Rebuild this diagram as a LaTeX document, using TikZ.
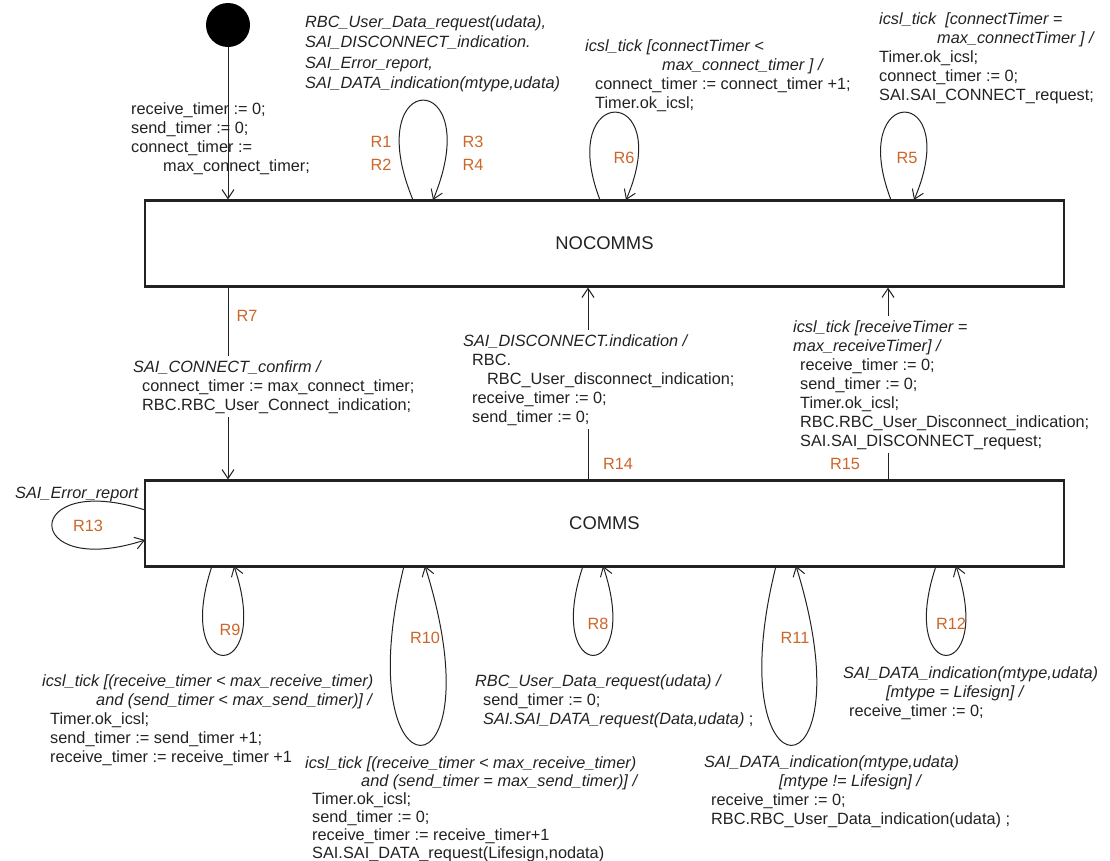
\documentclass[tikz,border=0pt]{standalone}
\usepackage{fontspec}
\setmainfont{Liberation Sans}
\usepackage{xcolor}
\usetikzlibrary{arrows.meta,positioning}
\definecolor{rorange}{RGB}{204,102,41}
\definecolor{ink}{RGB}{34,34,34}

\begin{document}
\begin{tikzpicture}[x=1pt,y=-1pt,
  state/.style={draw=ink,line width=2.2pt,minimum width=919pt,minimum height=86pt,
    inner sep=0pt,text=ink,font=\fontsize{18.4}{20}\selectfont},
  trans/.style={ink,line width=1pt,-{Straight Barb[length=9pt,width=12pt]}},
  act/.style={anchor=north west,align=left,inner sep=0pt,text=ink,
    font=\fontsize{16.3}{19}\selectfont},
  actit/.style={act,font=\fontsize{16.3}{19}\selectfont\itshape},
  actw/.style={act,fill=white,inner ysep=4pt},
  rname/.style={text=rorange,inner sep=0pt,font=\fontsize{16.3}{19}\selectfont}]
\useasboundingbox (0,0) rectangle (1110,860);

% states
\node[state] (nocomms) at (604.5,243.5) {NOCOMMS};
\node[state] (comms) at (604.5,523.5) {COMMS};
\node[circle,fill=black,inner sep=0pt,minimum size=44pt] (init) at (228,25) {};

% straight transitions
\coordinate (x14) at (588,0);
\coordinate (x15) at (888,0);
\draw[trans] (init) -- (init |- nocomms.north);
\draw[trans] (nocomms.south -| init) -- (comms.north -| init);
\draw[trans] (comms.north -| x14) -- (nocomms.south -| x14);
\draw[trans] (comms.north -| x15) -- (nocomms.south -| x15);

% self loops on NOCOMMS
\coordinate (a1) at (413,200); \coordinate (b1) at (433,200);
\coordinate (a6) at (600,200); \coordinate (b6) at (626,200);
\coordinate (a5) at (891,200); \coordinate (b5) at (914,200);
\draw[trans] (a1) .. controls (358,67) and (488,67) .. (b1);
\draw[trans] (a6) .. controls (555,83) and (676,83) .. (b6);
\draw[trans] (a5) .. controls (846,83) and (964,83) .. (b5);

% self loops on COMMS
\coordinate (a9) at (212,566); \coordinate (b9) at (234,566);
\coordinate (a10) at (404,566); \coordinate (b10) at (425,566);
\coordinate (a8) at (583,566); \coordinate (b8) at (603,566);
\coordinate (a11) at (776,566); \coordinate (b11) at (796,566);
\coordinate (a12) at (936,566); \coordinate (b12) at (956,566);
\coordinate (a13) at (145,510); \coordinate (b13) at (145,540);
\draw[trans] (a9) .. controls (172,685) and (274,685) .. (b9);
\draw[trans] (a10) .. controls (345,805) and (500,805) .. (b10);
\draw[trans] (a8) .. controls (543,685) and (643,685) .. (b8);
\draw[trans] (a11) .. controls (716,805) and (870,805) .. (b11);
\draw[trans] (a12) .. controls (896,685) and (996,685) .. (b12);
\draw[trans] (a13) .. controls (21,470) and (21,580) .. (b13);

% transition texts
\node[act] (tinit) at (131,102) {receive\_timer := 0;\\send\_timer := 0;\\connect\_timer :=\\\hspace*{32pt}max\_connect\_timer;};
\node[actit,font=\fontsize{16.3}{20.5}\selectfont\itshape] (t1) at (305,15) {RBC\_User\_Data\_request(udata),\\SAI\_DISCONNECT\_indication.\\SAI\_Error\_report,\\SAI\_DATA\_indication(mtype,udata)};
\node[act] (t6) at (585,39) {\textit{icsl\_tick [connectTimer <}\\\hspace*{77pt}\textit{max\_connect\_timer ] /}\\\hspace*{10pt}connect\_timer := connect\_timer +1;\\\hspace*{10pt}Timer.ok\_icsl;};
\node[act] (t5) at (879,12) {\textit{icsl\_tick\ \ [connectTimer =}\\\hspace*{58pt}\textit{max\_connectTimer ] /}\\Timer.ok\_icsl;\\connect\_timer := 0;\\SAI.SAI\_CONNECT\_request;};
\node[actw] (t7) at (133,356) {\textit{SAI\_CONNECT\_confirm /}\\\hspace*{9pt}connect\_timer := max\_connect\_timer;\\\hspace*{9pt}RBC.RBC\_User\_Connect\_indication;};
\node[actw] (t14) at (463,330) {\textit{SAI\_DISCONNECT.indication /}\\\hspace*{9pt}RBC.\\\hspace*{24pt}RBC\_User\_disconnect\_indication;\\\hspace*{9pt}receive\_timer := 0;\\\hspace*{9pt}send\_timer := 0;};
\node[actw] (t15) at (793,316) {\textit{icsl\_tick [receiveTimer =}\\\textit{max\_receiveTimer] /}\\\hspace*{7pt}receive\_timer := 0;\\\hspace*{7pt}send\_timer := 0;\\\hspace*{7pt}Timer.ok\_icsl;\\\hspace*{7pt}RBC.RBC\_User\_Disconnect\_indication;\\\hspace*{7pt}SAI.SAI\_DISCONNECT\_request;};
\node[actit] (t13) at (15,487) {SAI\_Error\_report};
\node[act] (t9) at (42,674) {\textit{icsl\_tick [(receive\_timer < max\_receive\_timer)}\\\hspace*{54pt}\textit{and (send\_timer < max\_send\_timer)] /}\\\hspace*{8pt}Timer.ok\_icsl;\\\hspace*{8pt}send\_timer := send\_timer +1;\\\hspace*{8pt}receive\_timer := receive\_timer +1};
\node[act,font=\fontsize{16.3}{18}\selectfont] (t10) at (305,756) {\textit{icsl\_tick [(receive\_timer < max\_receive\_timer)}\\\hspace*{56pt}\textit{and (send\_timer = max\_send\_timer)] /}\\\hspace*{7pt}Timer.ok\_icsl;\\\hspace*{7pt}send\_timer := 0;\\\hspace*{7pt}receive\_timer := receive\_timer+1\\\hspace*{7pt}SAI.SAI\_DATA\_request(Lifesign,nodata)};
\node[act] (t8) at (475,674) {\textit{RBC\_User\_Data\_request(udata) /}\\\hspace*{8pt}send\_timer := 0;\\\hspace*{8pt}\textit{SAI.SAI\_DATA\_request(Data,udata)} ;};
\node[act] (t11) at (704,755) {\textit{SAI\_DATA\_indication(mtype,udata)}\\\hspace*{75pt}\textit{[mtype != Lifesign] /}\\\hspace*{7pt}receive\_timer := 0;\\\hspace*{7pt}RBC.RBC\_User\_Data\_indication(udata) ;};
\node[act] (t12) at (843,666) {\textit{SAI\_DATA\_indication(mtype,udata)}\\\hspace*{43pt}\textit{[mtype = Lifesign] /}\\\hspace*{6pt}receive\_timer := 0;};

% rule labels
\node[rname] (r1) at (381,142) {R1};
\node[rname] (r2) at (381,165) {R2};
\node[rname] (r3) at (473,142) {R3};
\node[rname] (r4) at (473,165) {R4};
\node[rname] (r6) at (624,158) {R6};
\node[rname] (r5) at (907,158) {R5};
\node[rname] (r7) at (247,316) {R7};
\node[rname] (r14) at (618,464) {R14};
\node[rname] (r15) at (845,464) {R15};
\node[rname] (r13) at (88,526) {R13};
\node[rname] (r9) at (230,630) {R9};
\node[rname] (r10) at (425,638) {R10};
\node[rname] (r8) at (598,624) {R8};
\node[rname] (r11) at (795,638) {R11};
\node[rname] (r12) at (951,624) {R12};
\end{tikzpicture}
\end{document}
